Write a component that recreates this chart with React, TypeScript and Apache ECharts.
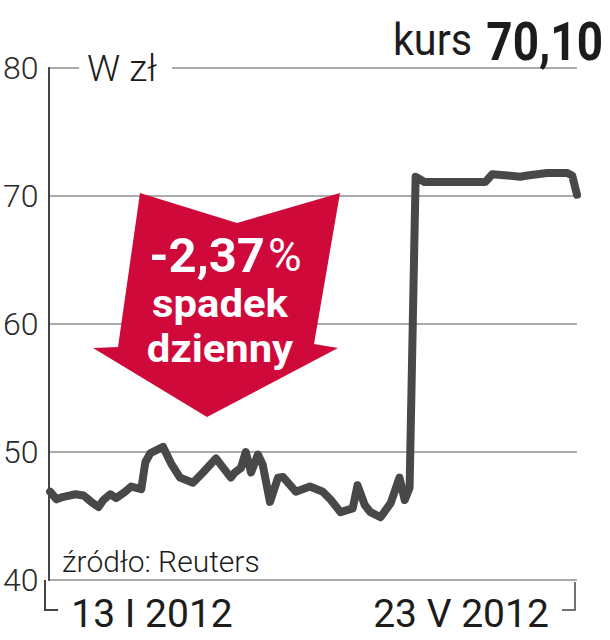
import React, { useEffect, useRef } from "react";
import * as echarts from "echarts";

// trading-day offsets from 13 I 2012 (day 0) to 23 V 2012 (day 131)
const days = [0.4, 2, 3.7, 6.7, 8.7, 10.6, 12.4, 13.6, 15.3, 16.8, 19.0, 20.5, 23.0, 24.0, 25.2, 28.4, 30.4, 32.6, 35.8, 38.3, 41.5, 45.2, 46.2, 47.7, 48.9, 50.2, 51.9, 53.1, 54.9, 56.9, 58.1, 61.3, 64.8, 68.0, 70.0, 72.4, 75.4, 76.6, 78.4, 79.8, 82.3, 84.8, 87.0, 88.3, 89.5, 91.0, 93.2, 97.1, 108.3, 110.0, 113.7, 116.9, 118.7, 123.6, 128.5, 129.8, 131];
const prices = [46.9, 46.3, 46.5, 46.7, 46.6, 46.1, 45.7, 46.25, 46.7, 46.4, 46.9, 47.3, 47.1, 49.2, 49.9, 50.4, 49.1, 48.0, 47.6, 48.4, 49.5, 48.0, 48.4, 48.75, 50.0, 48.4, 49.8, 49.0, 46.1, 48.0, 48.05, 46.9, 47.3, 46.9, 46.25, 45.3, 45.6, 47.4, 45.85, 45.3, 44.9, 46.0, 48.0, 46.25, 47.2, 71.5, 71.1, 71.1, 71.1, 71.7, 71.6, 71.5, 71.6, 71.8, 71.8, 71.6, 70.1];

const yTicks = [40, 50, 60, 70, 80];
const dateLabels = ["13 I 2012", "23 V 2012"];
const unitLabel = "W zł";
const sourceLabel = "źródło: Reuters";
const priceLabel = "kurs";
const priceValue = "70,10";
const changeValue = "-2,37";
const changeLines = ["spadek", "dzienny"];

const RED = "#cf0a3b";
const DARK = "#1c1c1c";

export default function App() {
  const ref = useRef<HTMLDivElement>(null);
  useEffect(() => {
    document.body.style.margin = "0";
    const chart = echarts.init(ref.current!, undefined, { renderer: "svg" });
    const font = "Roboto";
    chart.setOption({
      animation: false,
      backgroundColor: "#fff",
      grid: { left: 45, right: 33, top: 68, bottom: 60 },
      xAxis: {
        type: "value",
        min: 0,
        max: 131,
        axisLine: { show: false },
        axisTick: { show: false },
        axisLabel: { show: false },
        splitLine: { show: false },
      },
      yAxis: {
        type: "value",
        min: yTicks[0],
        max: yTicks[yTicks.length - 1],
        interval: 10,
        axisLine: { show: true, lineStyle: { color: "#444", width: 2 } },
        axisTick: { show: false },
        axisLabel: {
          fontSize: 32,
          fontFamily: font,
          fontWeight: 300,
          color: "#2a2a2a",
          margin: 10,
        },
        splitLine: { show: true, lineStyle: { color: "#8f8f8f", width: 1.5 } },
      },
      series: [
        {
          type: "line",
          data: days.map((d, i) => [d, prices[i]]),
          symbol: "none",
          showSymbol: false,
          z: 5,
          lineStyle: { color: "#484848", width: 8, cap: "round", join: "round" },
        },
      ],
      graphic: [
        // gap in top gridline for unit label
        { type: "rect", z: 10, shape: { x: 79, y: 60, width: 93, height: 16 }, style: { fill: "#fff" } },
        {
          type: "text", z: 11, x: 87, y: 68,
          style: { text: unitLabel, fontSize: 37, fontFamily: font, fontWeight: 300, fill: DARK, textAlign: "left", verticalAlign: "middle" },
        },
        // axis brackets
        { type: "polyline", z: 10, shape: { points: [[45, 580], [45, 610], [58, 610]] }, style: { stroke: "#444", lineWidth: 2, fill: "none" } },
        { type: "polyline", z: 10, shape: { points: [[575, 582], [575, 610], [562, 610]] }, style: { stroke: "#444", lineWidth: 1.5, fill: "none" } },
        // title
        {
          type: "text", z: 11, x: 603, y: 42, scaleX: 0.85,
          style: { text: priceValue, fontSize: 54, fontFamily: font, fontWeight: "bold", fill: DARK, textAlign: "right", verticalAlign: "middle" },
        },
        {
          type: "text", z: 11, x: 472, y: 40, scaleX: 0.94,
          style: { text: priceLabel, fontSize: 44, fontFamily: font, fontWeight: "normal", fill: DARK, textAlign: "right", verticalAlign: "middle" },
        },
        // arrow
        {
          type: "polygon", z: 10,
          shape: { points: [[140, 193], [237, 223], [340, 193], [314, 344], [338, 348], [207, 417], [93, 348], [118, 347]] },
          style: { fill: RED },
        },
        {
          type: "text", z: 11, x: 265, y: 255,
          style: { text: changeValue, fontSize: 49, lineHeight: 44, fontFamily: font, fontWeight: "bold", fill: "#fff", textAlign: "right", verticalAlign: "middle" },
        },
        {
          type: "text", z: 11, x: 268, y: 255,
          style: { text: "%", fontSize: 46, lineHeight: 44, fontFamily: font, fontWeight: "normal", fill: "#fff", textAlign: "left", verticalAlign: "middle" },
        },
        {
          type: "text", z: 11, x: 220, y: 304, scaleX: 1.1,
          style: { text: changeLines[0], fontSize: 38, lineHeight: 38, fontFamily: font, fontWeight: "bold", fill: "#fff", textAlign: "center", verticalAlign: "middle" },
        },
        {
          type: "text", z: 11, x: 220, y: 349, scaleX: 1.1,
          style: { text: changeLines[1], fontSize: 38, lineHeight: 38, fontFamily: font, fontWeight: "bold", fill: "#fff", textAlign: "center", verticalAlign: "middle" },
        },
        // source
        {
          type: "text", z: 11, x: 62, y: 561,
          style: { text: sourceLabel, fontSize: 30, fontFamily: font, fontWeight: 300, fill: DARK, textAlign: "left", verticalAlign: "middle" },
        },
        // date labels
        {
          type: "text", z: 11, x: 152, y: 614,
          style: { text: dateLabels[0], fontSize: 39, fontFamily: font, fontWeight: "normal", fill: DARK, textAlign: "center", verticalAlign: "middle" },
        },
        {
          type: "text", z: 11, x: 461, y: 614,
          style: { text: dateLabels[1], fontSize: 39, fontFamily: font, fontWeight: "normal", fill: DARK, textAlign: "center", verticalAlign: "middle" },
        },
      ],
    });
    return () => chart.dispose();
  }, []);
  return <div ref={ref} style={{ width: 610, height: 640 }} />;
}
